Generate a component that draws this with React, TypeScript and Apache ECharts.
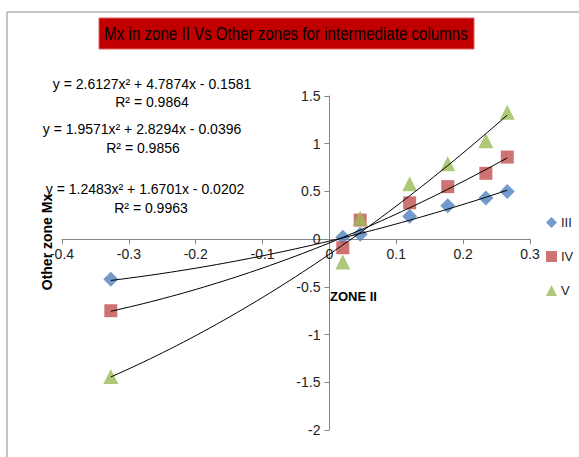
import React, { useEffect, useRef } from "react";
import * as echarts from "echarts";

const seriesNames = ["III", "IV", "V"];
const xValues = [-0.327, 0.02, 0.046, 0.12, 0.177, 0.234, 0.266];
const zoneIII = [-0.42, 0.02, 0.05, 0.24, 0.35, 0.43, 0.5];
const zoneIV = [-0.75, -0.09, 0.2, 0.38, 0.55, 0.69, 0.86];
const zoneV = [-1.44, -0.24, 0.22, 0.58, 0.79, 1.03, 1.33];
// trendline coefficients as shown in the chart equations [a, b, c] for y = a x^2 + b x + c
const fitIII = [1.2483, 1.6701, -0.0202];
const fitIV = [1.9571, 2.8294, -0.0396];
const fitV = [2.6127, 4.7874, -0.1581];
const xTicks = [-0.4, 0.3, 0.1];
const yTicks = [-2, 1.5, 0.5];
const colors = ["#4F81BD", "#C0504D", "#9BBB59"];
const symbols = ["diamond", "rect", "triangle"];

function curve(c: number[]) {
  const pts: number[][] = [];
  const x0 = xValues[0];
  const x1 = xValues[xValues.length - 1];
  const n = 60;
  for (let i = 0; i <= n; i++) {
    const x = x0 + ((x1 - x0) * i) / n;
    pts.push([x, c[0] * x * x + c[1] * x + c[2]]);
  }
  return pts;
}

export default function App() {
  const ref = useRef<HTMLDivElement>(null);
  useEffect(() => {
    if (!ref.current) return;
    const chart = echarts.init(ref.current, undefined, { renderer: "svg" });
    const values = [zoneIII, zoneIV, zoneV];
    const fits = [fitIII, fitIV, fitV];
    const font = "Liberation Sans, Arial, sans-serif";
    const W = 579, H = 457;
    const grid = { left: 62, right: 49, top: 96, bottom: 27 };
    const gw = W - grid.left - grid.right;
    const gh = H - grid.top - grid.bottom;
    // move axes to cross at zero
    const yOffset = -((0 - xTicks[0]) / (xTicks[1] - xTicks[0])) * gw;
    const xOffset = -((0 - yTicks[0]) / (yTicks[1] - yTicks[0])) * gh;
    const scatter = seriesNames.map((name, i) => ({
      name,
      type: "scatter",
      symbol: symbols[i],
      symbolSize: i === 1 ? 13 : 15,
      itemStyle: { color: colors[i] },
      data: xValues.map((x, j) => [x, values[i][j]]),
      z: 3,
    }));
    const lines = fits.map((c, i) => ({
      name: "fit" + i,
      type: "line",
      showSymbol: false,
      symbol: "none",
      lineStyle: { color: "#000", width: 1 },
      data: curve(c),
      z: 4,
    }));
    const t = (text: string, x: number, y: number, size = 14, extra: any = {}) => ({
      type: "text",
      x,
      y,
      ...extra,
      style: { text, fill: "#000", font: size + "px " + font, align: "center", verticalAlign: "middle", ...(extra.style || {}) },
    });
    chart.setOption({
      animation: false,
      textStyle: { fontFamily: font },
      grid,
      xAxis: {
        type: "value",
        min: xTicks[0],
        max: xTicks[1],
        interval: xTicks[2],
        offset: xOffset,
        axisLine: { onZero: false, lineStyle: { color: "#868686" } },
        axisTick: { show: true, inside: false, length: 5, lineStyle: { color: "#868686" } },
        axisLabel: { color: "#222", fontSize: 14, margin: 8, fontFamily: font },
        splitLine: { show: false },
      },
      yAxis: {
        type: "value",
        min: yTicks[0],
        max: yTicks[1],
        interval: yTicks[2],
        offset: yOffset,
        axisLine: { show: true, onZero: false, lineStyle: { color: "#868686" } },
        axisTick: { show: true, length: 5, lineStyle: { color: "#868686" } },
        axisLabel: { color: "#222", fontSize: 14, margin: 9, fontFamily: font },
        splitLine: { show: false },
      },
      legend: {
        data: seriesNames,
        orient: "vertical",
        left: 546,
        top: 216,
        itemGap: 21,
        itemWidth: 11,
        itemHeight: 11,
        padding: 0,
        textStyle: { color: "#222", fontSize: 13, fontFamily: font, padding: [0, 0, 0, -1] },
      },
      series: [...scatter, ...lines],
      graphic: [
        {
          type: "rect",
          shape: { x: 7, y: 12, width: 620, height: 500 },
          style: { fill: "none", stroke: "#8a8a8a", lineWidth: 1 },
          silent: true,
        },
        {
          type: "rect",
          shape: { x: 99, y: 18, width: 375, height: 31 },
          style: { fill: "#C00000", stroke: "#E06060", lineWidth: 1 },
        },
        t("Mx in zone II Vs Other zones for intermediate columns", 286, 34, 18, { scaleX: 0.84, originX: 286, originY: 34, x: 0, y: 0, style: { x: 286, y: 34 } }),
        t("y = 2.6127x² + 4.7874x - 0.1581", 152, 84),
        t("R² = 0.9864", 152, 102),
        t("y = 1.9571x² + 2.8294x - 0.0396", 142, 129),
        t("R² = 0.9856", 143, 148),
        t("y = 1.2483x² + 1.6701x - 0.0202", 145, 189),
        t("R² = 0.9963", 151, 208),
        {
          type: "text",
          x: 47,
          y: 242,
          rotation: Math.PI / 2,
          style: { text: "Other zone Mx", fill: "#000", font: "bold 14px " + font, align: "center", verticalAlign: "middle" },
        },
        { type: "text", x: 330, y: 296, style: { text: "ZONE II", fill: "#000", font: "bold 13px " + font, align: "left", verticalAlign: "middle" } },
      ],
    });
    return () => chart.dispose();
  }, []);
  return <div ref={ref} style={{ width: 579, height: 457, position: "absolute", left: 0, top: 0 }} />;
}
